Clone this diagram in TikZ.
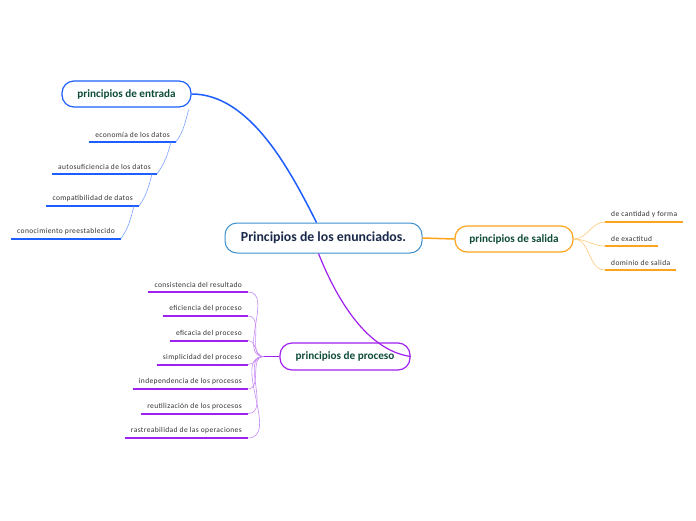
\documentclass[tikz,border=0pt]{standalone}
\usepackage{fontspec}
\setmainfont{Carlito}
\newfontfamily\leaffont[LetterSpace=5]{Carlito}
\usetikzlibrary{positioning}

\definecolor{entblue}{HTML}{1E5EFF}
\definecolor{entthin}{HTML}{7DA3FF}
\definecolor{rootblue}{HTML}{3D8FCC}
\definecolor{rootink}{HTML}{1B2A4A}
\definecolor{topicink}{HTML}{0F4C3A}
\definecolor{salorange}{HTML}{FFA31A}
\definecolor{salthin}{HTML}{FFCB7A}
\definecolor{procpurple}{HTML}{A020F0}
\definecolor{procthin}{HTML}{C98BF5}
\definecolor{leafink}{HTML}{333333}

\begin{document}
\begin{tikzpicture}[x=1pt, y=-1pt,
    root/.style={draw=rootblue, line width=1pt, fill=white, rounded corners=12pt,
      minimum width=197pt, minimum height=30pt, text=rootink,
      font=\fontsize{13.8}{16}\selectfont\bfseries},
    topic/.style={line width=1.2pt, fill=white, rounded corners=12pt,
      minimum height=26pt, text=topicink, font=\fontsize{11.2}{13}\selectfont\bfseries},
    leaf/.style={text=leafink, font=\leaffont\fontsize{7.5}{9}\selectfont,
      inner xsep=6pt, inner ysep=4pt},
    uline/.style={line width=2pt},
    twig/.style={line width=0.6pt},
  ]
    %% --- fondo ---
    \useasboundingbox[fill=white] (0,0) rectangle (696,520);

    %% --- nodos principales ---
    \node[root] (root) at (323.5,238) {Principios de los enunciados.};
    \node[topic, draw=entblue, minimum width=129pt] (ent) at (126.5,94) {principios de entrada};
    \node[topic, draw=salorange, minimum width=118pt] (sal) at (514,239) {principios de salida};
    \node[topic, draw=procpurple, minimum width=130pt, minimum height=27pt] (proc) at (345,356.5) {principios de proceso};

    %% --- ramas principales ---
    \draw[entblue, line width=1.5pt] (ent.east) .. controls (250,94) and (290,170) .. ([xshift=-7pt]root.north);
    \draw[salorange, line width=1.5pt] (root.east) -- (sal.west);
    \draw[procpurple, line width=1.2pt] ([xshift=-5pt]root.south) .. controls (335,295) and (365,350) .. (proc.east);

    %% ============================================================
    %% principios de entrada
    %% ============================================================
    \node[leaf, anchor=south east] (e1) at (176,142) {economía de los datos};
    \node[leaf, anchor=south east] (e2) at (157,174) {autosuficiencia de los datos};
    \node[leaf, anchor=south east] (e3) at (139,206) {compatibilidad de datos};
    \node[leaf, anchor=south east] (e4) at (121,238.5) {conocimiento preestablecido};
    \foreach \n in {e1,e2,e3,e4}
      \draw[entblue, uline] (\n.south west) -- (\n.south east);
    \draw[entthin, twig] ([xshift=-3pt,yshift=-2pt]ent.south east) to[out=-105, in=55] (e1.south east);
    \draw[entthin, twig] ([xshift=-5pt]e1.south east) to[out=-105, in=55] (e2.south east);
    \draw[entthin, twig] ([xshift=-5pt]e2.south east) to[out=-105, in=55] (e3.south east);
    \draw[entthin, twig] ([xshift=-5pt]e3.south east) to[out=-105, in=55] (e4.south east);

    %% ============================================================
    %% principios de salida
    %% ============================================================
    \node[leaf, anchor=south west] (s1) at (605,222) {de cantidad y forma};
    \node[leaf, anchor=south west] (s2) at (605,246) {de exactitud};
    \node[leaf, anchor=south west] (s3) at (605,270) {dominio de salida};
    \foreach \n in {s1,s2,s3} {
      \draw[salorange, uline] (\n.south west) -- (\n.south east);
      \draw[salthin, twig] (sal.east) to[out=0, in=180] (\n.south west);
    }

    %% ============================================================
    %% principios de proceso
    %% ============================================================
    \coordinate (pfan) at ([xshift=-16pt]proc.west);
    \draw[procpurple, line width=1.5pt] (proc.west) -- (pfan);
    \node[leaf, anchor=south east] (p1) at (248,292) {consistencia del resultado};
    \node[leaf, anchor=south east] (p2) at (248,316) {eficiencia del proceso};
    \node[leaf, anchor=south east] (p3) at (248,340.5) {eficacia del proceso};
    \node[leaf, anchor=south east] (p4) at (248,364.5) {simplicidad del proceso};
    \node[leaf, anchor=south east] (p5) at (248,389) {independencia de los procesos};
    \node[leaf, anchor=south east] (p6) at (248,413.5) {reutilización de los procesos};
    \node[leaf, anchor=south east] (p7) at (248,438) {rastreabilidad de las operaciones};
    \foreach \n in {p1,p2,p3,p4,p5,p6,p7} {
      \draw[procpurple, uline] (\n.south west) -- (\n.south east);
      \draw[procthin, twig] (pfan) to[out=180, in=0] (\n.south east);
    }
\end{tikzpicture}
\end{document}
